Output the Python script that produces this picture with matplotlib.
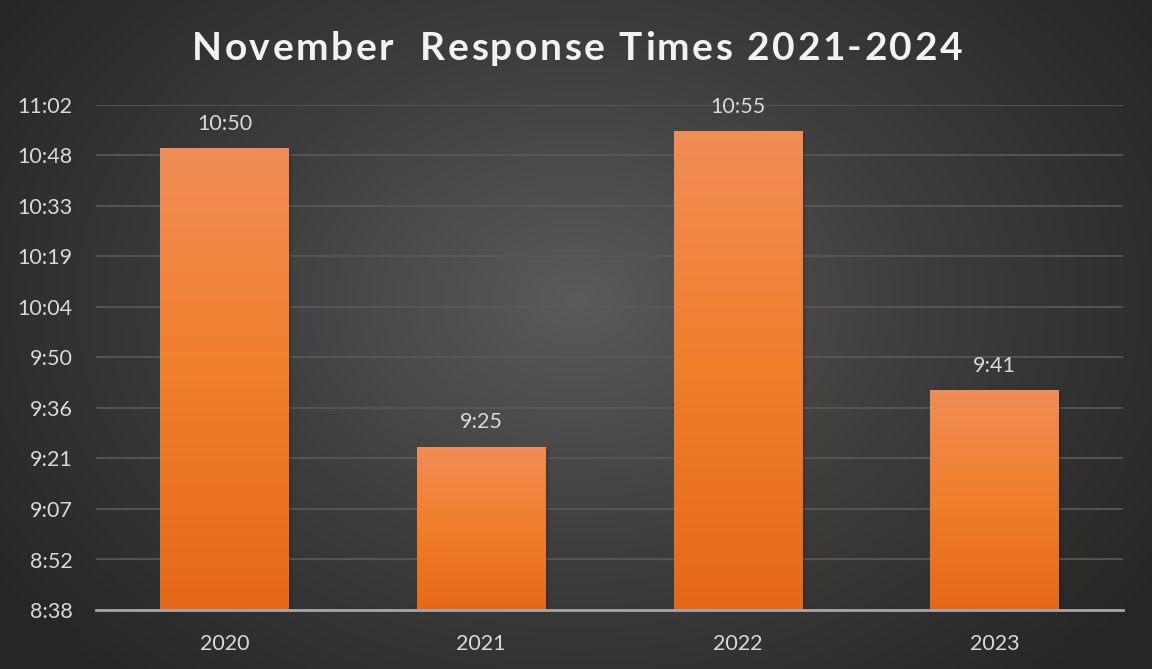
import numpy as np
import matplotlib.pyplot as plt
from matplotlib.ticker import FixedLocator, FuncFormatter
from matplotlib.colors import LinearSegmentedColormap

years = ["2020", "2021", "2022", "2023"]
avg_times = ["10:50", "9:25", "10:55", "9:41"]
y_min, y_max, y_step = 0.36, 0.46, 0.01   # fraction of a day, like a spreadsheet axis
title = "November  Response Times 2021-2024"


def to_day(t):
    h, m = t.split(":")
    return (int(h) * 60 + int(m)) / 1440.0


def day_label(v, pos=None):
    mins = int(v * 1440 + 1e-6)
    return f"{mins // 60}:{mins % 60:02d}"


values = [to_day(t) for t in avg_times]

plt.rcParams['font.family'] = ['Lato', 'DejaVu Sans']

fig = plt.figure(figsize=(11.52, 6.69), dpi=100)

# radial dark background
bg = fig.add_axes([0, 0, 1, 1], zorder=-10)
yy, xx = np.mgrid[0:669, 0:1152]
r = np.sqrt(((xx - 576) / 700.0) ** 2 + ((yy - 300) / 520.0) ** 2)
bg_cmap = LinearSegmentedColormap.from_list("bg", ["#5a5a5a", "#3d3d3d", "#262626"])
bg.imshow(r, cmap=bg_cmap, vmin=0, vmax=1.0, aspect="auto", extent=[0, 1, 0, 1])
bg.set_axis_off()

ax = fig.add_axes([96 / 1152, 1 - 610 / 669, (1123 - 96) / 1152, (610 - 105) / 669])
ax.set_facecolor("none")

x = np.arange(len(years))
bars = ax.bar(x, [v - y_min for v in values], bottom=y_min, width=0.5,
              color="none", zorder=3)

bar_cmap = LinearSegmentedColormap.from_list("bar", ["#F18D56", "#F07E2A", "#E56818"])
grad = np.linspace(0, 1, 256).reshape(-1, 1)
for b in bars:
    x0, w = b.get_x(), b.get_width()
    top = b.get_y() + b.get_height()
    # faint shadow, mostly to the right
    for k, a in enumerate([0.08, 0.05, 0.03]):
        d = 0.005 * (k + 1)
        ax.add_patch(plt.Rectangle((x0 + d * 0.3, y_min), w + d, top - y_min - 0.0004,
                                   color="black", alpha=a, lw=0, zorder=2))
    im = ax.imshow(grad, cmap=bar_cmap, aspect="auto", zorder=3,
                   extent=[x0, x0 + w, y_min, top], origin="upper")
    im.set_clip_path(b)

for xi, v, t in zip(x, values, avg_times):
    ax.text(xi, v + 0.0048, t, ha="center", va="center", fontsize=15.5, color="#d9d9d9", zorder=5)

ax.set_xlim(-0.5, len(years) - 0.5)
ax.set_ylim(y_min, y_max)
ax.yaxis.set_major_locator(FixedLocator(np.arange(y_min, y_max + y_step / 2, y_step)))
ax.yaxis.set_major_formatter(FuncFormatter(day_label))
ax.set_xticks(x)
ax.set_xticklabels(years)
ax.grid(axis="y", color="#5a5a5a", lw=1.2, zorder=1)
ax.set_axisbelow(True)
for s in ["top", "right", "left"]:
    ax.spines[s].set_visible(False)
ax.spines["bottom"].set_color("#a6a6a6")
ax.spines["bottom"].set_linewidth(2)
ax.spines["bottom"].set_zorder(6)
ax.tick_params(axis="both", length=0, labelsize=15.5, colors="#d9d9d9")
ax.tick_params(axis="y", pad=17)
ax.tick_params(axis="x", pad=17)

# letter-spaced title, placed character by character
renderer = fig.canvas.get_renderer()
tkw = dict(fontsize=28, fontweight="bold", color="#f2f2f2", va="center", ha="left")


def px_width(s):
    t = fig.text(0, 0, s, **tkw)
    w = t.get_window_extent(renderer).width if s else 0.0
    t.remove()
    return w


natural = px_width(title)
left_px, right_px = 192, 962
spacing = (right_px - left_px - natural) / (len(title) - 1)
ty = 1 - 48 / 669
for i, ch in enumerate(title):
    if ch == " ":
        continue
    xpx = left_px + px_width(title[:i]) + i * spacing
    fig.text(xpx / 1152, ty, ch, **tkw)

fig.savefig("out.png", dpi=100)
